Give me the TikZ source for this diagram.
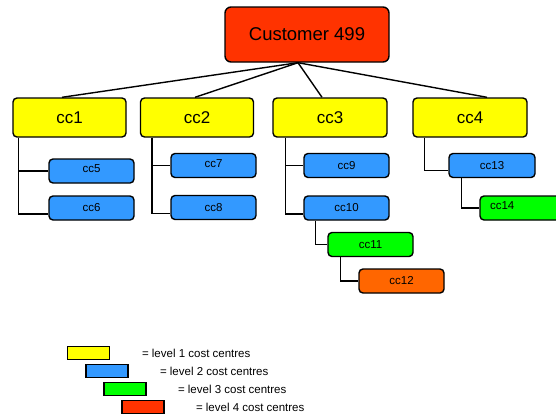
\documentclass[tikz,border=0pt]{standalone}
\usepackage{fontspec}
\setmainfont{Liberation Sans}
\usepackage{xcolor}
\definecolor{lvlone}{HTML}{FFFF00}
\definecolor{lvltwo}{HTML}{3399FF}
\definecolor{lvlthree}{HTML}{00FF00}
\definecolor{lvlfour}{HTML}{FF3300}
\definecolor{lvlorange}{HTML}{FF6600}

\begin{document}
\begin{tikzpicture}[x=1pt,y=-1pt,line width=1.4pt,
  box/.style={draw,rounded corners=4pt,inner sep=0pt},
  big/.style={box,minimum width=113pt,minimum height=39pt,font=\fontsize{17}{17}\selectfont},
  small/.style={box,minimum width=85pt,minimum height=24pt,font=\fontsize{11.5}{11.5}\selectfont},
  key/.style={draw,line width=1.8pt,minimum width=42pt,minimum height=13pt,inner sep=0pt},
  keytext/.style={anchor=west,font=\fontsize{11.5}{11.5}\selectfont}]
  \useasboundingbox (0,0) rectangle (556,416);

  \node[box,fill=lvlfour,minimum width=164pt,minimum height=55pt,rounded corners=6pt,
        font=\fontsize{18.5}{18.5}\selectfont] (cust) at (307,34.5) {Customer 499};

  \node[big,fill=lvlone] (cc1) at (69.5,117.5) {cc1};
  \node[big,fill=lvlone] (cc2) at (197,117.5) {cc2};
  \node[big,fill=lvlone,minimum width=114pt] (cc3) at (330,117.5) {cc3};
  \node[big,fill=lvlone,minimum width=114pt] (cc4) at (470,117.5) {cc4};

  \node[small,fill=lvltwo] (cc5) at (91.5,171) {\raisebox{4pt}{cc5}};
  \node[small,fill=lvltwo] (cc6) at (91.5,208) {cc6};
  \node[small,fill=lvltwo] (cc7) at (213.5,165.5) {\raisebox{3pt}{cc7}};
  \node[small,fill=lvltwo] (cc8) at (213.5,207.5) {cc8};
  \node[small,fill=lvltwo] (cc9) at (346.5,165.5) {cc9};
  \node[small,fill=lvltwo] (cc10) at (346.5,208) {cc10};
  \node[small,fill=lvlthree] (cc11) at (370.5,244.5) {cc11};
  \node[small,fill=lvlorange] (cc12) at (401.5,281) {cc12};
  \node[small,fill=lvltwo,minimum width=86pt] (cc13) at (492,165.5) {cc13};
  \node[small,fill=lvlthree,minimum width=86pt,text width=66pt,align=left]
       (cc14) at (523,208) {\raisebox{5pt}{cc14}};

  % top level links
  \draw ([xshift=-9pt]cust.south) -- ([xshift=-7.5pt]cc1.north);
  \draw ([xshift=-9pt]cust.south) -- ([xshift=-2pt]cc2.north);
  \draw ([xshift=-9pt]cust.south) -- ([xshift=-8pt]cc3.north);
  \draw ([xshift=-9pt]cust.south) -- ([xshift=17pt]cc4.north);

  % branches
  \draw ([xshift=6pt]cc1.south west) |- (cc5.west);
  \draw ([xshift=6pt]cc1.south west) |- ([yshift=-6pt]cc6.west);
  \draw ([xshift=12pt]cc2.south west) |- (cc7.west);
  \draw ([xshift=12pt]cc2.south west) |- ([yshift=-6pt]cc8.west);
  \draw ([xshift=13pt]cc3.south west) |- (cc9.west);
  \draw ([xshift=13pt]cc3.south west) |- ([yshift=-6pt]cc10.west);
  \draw ([xshift=12pt]cc10.south west) |- (cc11.west);
  \draw ([xshift=13pt]cc11.south west) |- (cc12.west);
  \draw ([xshift=12pt]cc4.south west) |- ([yshift=-5pt]cc13.west);
  \draw ([xshift=13pt]cc13.south west) |- (cc14.west);

  % key
  \node[key,fill=lvlone] (leg1) at (88.5,353) {};
  \node[key,fill=lvltwo] (leg2) at (107,371) {};
  \node[key,fill=lvlthree] (leg3) at (125,389) {};
  \node[key,fill=lvlfour] (leg4) at (143,407) {};
  \node[keytext] (txt1) at (138,353) {= level 1 cost centres};
  \node[keytext] (txt2) at (156,371) {= level 2 cost centres};
  \node[keytext] (txt3) at (174,389) {= level 3 cost centres};
  \node[keytext] (txt4) at (192,407) {= level 4 cost centres};
\end{tikzpicture}
\end{document}
